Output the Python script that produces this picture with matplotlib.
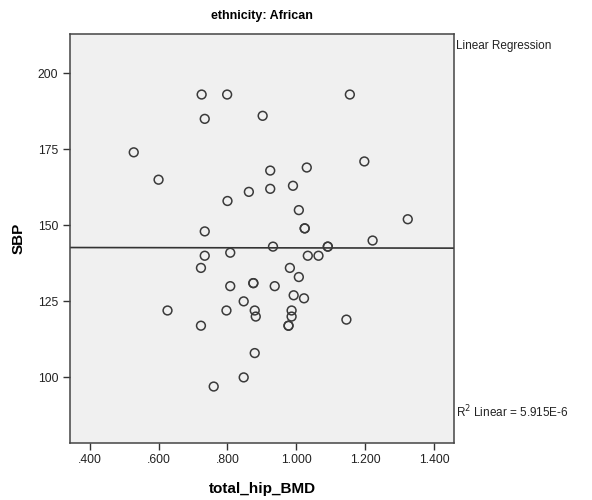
import matplotlib
matplotlib.use("Agg")
import matplotlib.pyplot as plt
import numpy as np

plt.rcParams['font.family'] = ['Liberation Sans', 'DejaVu Sans']

bmd = [0.528, 0.600, 0.626, 0.723, 0.723, 0.725, 0.734, 0.734, 0.734, 0.760,
       0.797, 0.799, 0.800, 0.808, 0.808, 0.847, 0.847, 0.862, 0.875, 0.875,
       0.879, 0.882, 0.879, 0.902, 0.924, 0.924, 0.932, 0.937, 0.981, 0.977,
       0.977, 0.986, 0.986, 0.990, 0.992, 1.007, 1.007, 1.022, 1.024, 1.024,
       1.030, 1.033, 1.064, 1.091, 1.091, 1.145, 1.155, 1.197, 1.221, 1.323]
sbp = [174, 165, 122, 136, 117, 193, 185, 148, 140, 97,
       122, 193, 158, 141, 130, 125, 100, 161, 131, 131,
       122, 120, 108, 186, 168, 162, 143, 130, 136, 117,
       117, 122, 120, 163, 127, 155, 133, 126, 149, 149,
       169, 140, 140, 143, 143, 119, 193, 171, 145, 152]

reg_x = [0.343, 1.457]
reg_y = [142.7, 142.5]

xticks = [0.4, 0.6, 0.8, 1.0, 1.2, 1.4]
xticklabels = ['.400', '.600', '.800', '1.000', '1.200', '1.400']
yticks = [100, 125, 150, 175, 200]

fig = plt.figure(figsize=(5.92, 5.0), dpi=100)
ax = fig.add_axes([0.1182, 0.115, 0.6486, 0.817])
ax.set_facecolor('#F0F0F0')

ax.plot(reg_x, reg_y, color='#333333', lw=1.2, zorder=2)
ax.scatter(bmd, sbp, s=40, facecolors='none', edgecolors='#3a3a3a', linewidths=1.1, zorder=3)

ax.set_xlim(0.343, 1.457)
ax.set_ylim(78.6, 212.9)
ax.set_xticks(xticks)
ax.set_xticklabels(xticklabels)
ax.set_yticks(yticks)
ax.tick_params(direction='out', length=5, width=1, color='#333333', labelsize=8.7, labelcolor='#222222')
for s in ax.spines.values():
    s.set_color('#444444')
    s.set_linewidth(1.1)

ax.set_title('ethnicity: African', fontsize=9, fontweight='bold', pad=11)
ax.set_xlabel('total_hip_BMD', fontsize=11, fontweight='bold', labelpad=11)
ax.set_ylabel('SBP', fontsize=11, fontweight='bold', labelpad=9)

fig.text(456/592, 1 - 46/500, 'Linear Regression', fontsize=8.5, va='center', ha='left', color='#222222')
fig.text(456/592, 1 - 412/500, 'R$^2$ Linear = 5.915E-6', fontsize=8.5, va='center', ha='left', color='#222222')

fig.savefig('out.png', dpi=100)
